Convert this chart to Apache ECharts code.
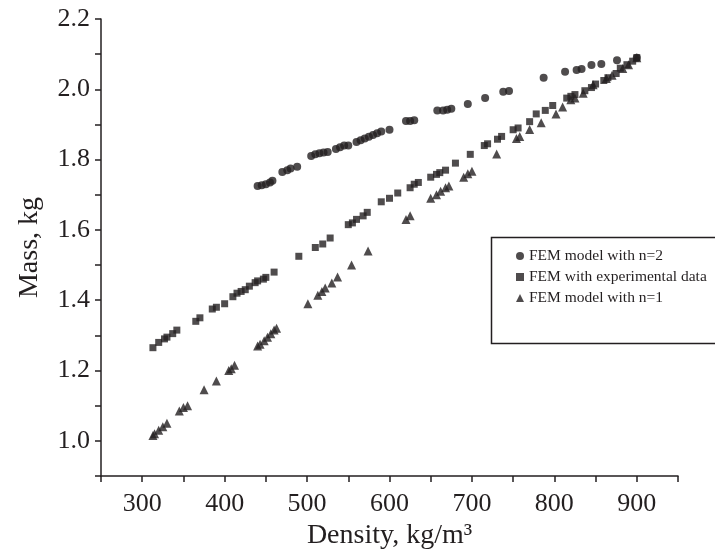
<!DOCTYPE html>
<html>
<head>
<meta charset="utf-8">
<script src="https://cdn.jsdelivr.net/npm/echarts@6/dist/echarts.min.js"></script>
<style>html,body{margin:0;padding:0;background:#fff}#c{width:715px;height:555px}</style>
</head>
<body>
<div id="c"></div>
<script>
// ---- Data ----
const seriesNames = ['FEM model with n=2', 'FEM with experimental data', 'FEM model with n=1'];

const n2Density = [440,445,450,455,458,470,476,480,488,505,510,515,520,525,535,540,545,550,560,565,570,575,580,585,590,600,620,625,630,658,665,670,675,695,716,738,745,787,813,827,833,845,857,876,900];
const n2Mass    = [1.725,1.727,1.73,1.735,1.74,1.765,1.77,1.775,1.78,1.81,1.815,1.818,1.82,1.822,1.83,1.835,1.84,1.84,1.85,1.855,1.86,1.865,1.87,1.875,1.88,1.885,1.91,1.91,1.912,1.94,1.94,1.942,1.945,1.958,1.975,1.993,1.995,2.033,2.05,2.055,2.058,2.069,2.072,2.083,2.09];

const expDensity = [313,320,327,330,337,342,365,370,385,390,400,410,415,420,425,430,437,440,447,450,460,490,510,519,528,550,555,560,568,573,590,600,610,625,630,635,650,657,661,668,680,698,715,719,731,736,750,756,770,778,789,798,815,820,825,837,845,850,860,865,875,880,888,895,900];
const expMass    = [1.265,1.28,1.29,1.295,1.305,1.315,1.34,1.35,1.375,1.38,1.39,1.41,1.42,1.425,1.43,1.44,1.45,1.455,1.46,1.465,1.48,1.525,1.55,1.56,1.577,1.615,1.62,1.63,1.64,1.65,1.68,1.69,1.705,1.72,1.73,1.735,1.75,1.758,1.763,1.77,1.79,1.815,1.84,1.845,1.858,1.866,1.885,1.89,1.908,1.93,1.94,1.954,1.975,1.98,1.985,1.996,2.005,2.015,2.025,2.033,2.045,2.06,2.07,2.08,2.09];

const n1Density = [313,315,320,325,330,345,350,355,375,390,405,408,412,440,443,448,452,456,460,463,501,513,518,522,530,537,554,574,620,625,650,657,662,668,672,690,695,700,730,754,758,770,784,802,810,820,825,835,847,863,870,883,890,900];
const n1Mass    = [1.015,1.02,1.03,1.04,1.05,1.085,1.095,1.1,1.145,1.17,1.2,1.205,1.215,1.27,1.275,1.285,1.295,1.305,1.315,1.32,1.39,1.414,1.425,1.435,1.449,1.466,1.5,1.54,1.63,1.64,1.69,1.7,1.71,1.72,1.725,1.75,1.76,1.767,1.816,1.86,1.866,1.886,1.905,1.93,1.95,1.97,1.975,1.989,2.013,2.031,2.04,2.059,2.07,2.09];

const xTickLabels = [300,400,500,600,700,800,900];
const yTickLabels = ['1.0','1.2','1.4','1.6','1.8','2.0','2.2'];

// ---- Chart ----
const ink = '#231f20';
const serif = '"Liberation Serif","DejaVu Serif",serif';
const pairs = (xs, ys) => xs.map((x, i) => [x, ys[i]]);

const chart = echarts.init(document.getElementById('c'), null, {renderer: 'canvas'});
chart.setOption({
  animation: false,
  backgroundColor: '#fff',
  grid: {left: 101, right: 37, top: 19, bottom: 73},
  xAxis: {
    type: 'value', min: 250, max: 950, interval: 50,
    name: 'Density, kg/m³', nameLocation: 'middle', nameGap: 46,
    nameTextStyle: {fontFamily: serif, fontSize: 28, color: ink},
    axisLine: {show: true, lineStyle: {color: ink, width: 1.5}},
    axisTick: {show: true, inside: false, length: 6, lineStyle: {color: ink, width: 1.5}},
    axisLabel: {
      fontFamily: serif, fontSize: 26, color: ink, margin: 15,
      formatter: v => xTickLabels.indexOf(Math.round(v)) >= 0 ? String(Math.round(v)) : ''
    },
    splitLine: {show: false}
  },
  yAxis: {
    type: 'value', min: 0.9, max: 2.2, interval: 0.1,
    name: 'Mass, kg', nameLocation: 'middle', nameGap: 57, nameRotate: 90,
    nameTextStyle: {fontFamily: serif, fontSize: 28, color: ink},
    axisLine: {show: true, lineStyle: {color: ink, width: 1.5}},
    axisTick: {show: true, inside: false, length: 6, lineStyle: {color: ink, width: 1.5}},
    axisLabel: {
      fontFamily: serif, fontSize: 26, color: ink, margin: 11,
      formatter: v => { const s = v.toFixed(1); return yTickLabels.indexOf(s) >= 0 ? s : ''; }
    },
    splitLine: {show: false}
  },
  legend: {
    orient: 'vertical', left: 511, top: 243, itemGap: 5,
    itemWidth: 8, itemHeight: 8,
    textStyle: {fontFamily: serif, fontSize: 15.5, color: ink},
    data: [
      {name: seriesNames[0], icon: 'circle'},
      {name: seriesNames[1], icon: 'rect'},
      {name: seriesNames[2], icon: 'triangle'}
    ]
  },
  graphic: [{
    type: 'rect', left: 489, top: 235, z: 100, silent: true,
    shape: {width: 240, height: 106},
    style: {fill: 'none', stroke: ink, lineWidth: 1.5}
  }],
  series: [
    {name: seriesNames[0], type: 'scatter', symbol: 'circle', symbolSize: 8,
     itemStyle: {color: ink}, data: pairs(n2Density, n2Mass)},
    {name: seriesNames[1], type: 'scatter', symbol: 'rect', symbolSize: 7,
     itemStyle: {color: ink}, data: pairs(expDensity, expMass)},
    {name: seriesNames[2], type: 'scatter', symbol: 'triangle', symbolSize: 9,
     itemStyle: {color: ink}, data: pairs(n1Density, n1Mass)}
  ]
});
</script>
</body>
</html>
